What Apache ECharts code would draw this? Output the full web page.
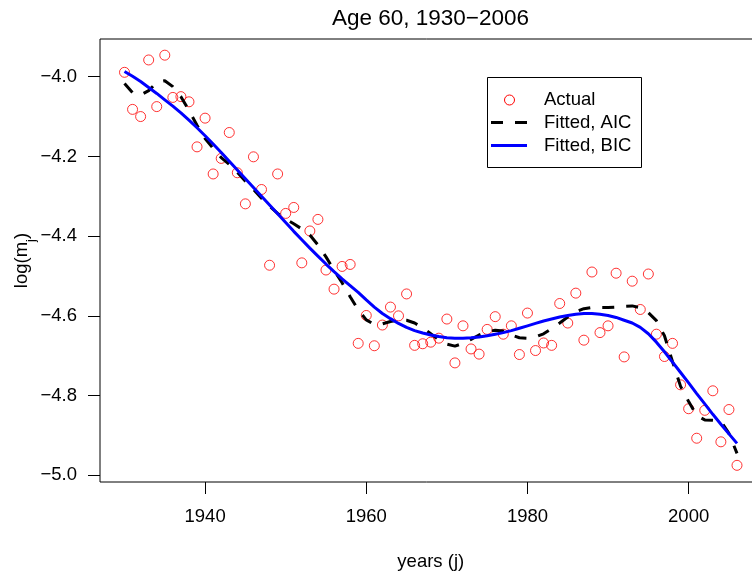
<!DOCTYPE html>
<html>
<head>
<meta charset="utf-8">
<script src="https://cdn.jsdelivr.net/npm/echarts@6/dist/echarts.min.js"></script>
<style>html,body{margin:0;padding:0;background:#fff;}#c{width:752px;height:572px;}</style>
</head>
<body>
<div id="c"></div>
<script>
const years = [1930,1931,1932,1933,1934,1935,1936,1937,1938,1939,1940,1941,1942,1943,1944,1945,1946,1947,1948,1949,1950,1951,1952,1953,1954,1955,1956,1957,1958,1959,1960,1961,1962,1963,1964,1965,1966,1967,1968,1969,1970,1971,1972,1973,1974,1975,1976,1977,1978,1979,1980,1981,1982,1983,1984,1985,1986,1987,1988,1989,1990,1991,1992,1993,1994,1995,1996,1997,1998,1999,2000,2001,2002,2003,2004,2005,2006];
const actual = [-3.989,-4.082,-4.100,-3.958,-4.075,-3.946,-4.052,-4.050,-4.063,-4.176,-4.104,-4.244,-4.205,-4.140,-4.241,-4.319,-4.201,-4.283,-4.473,-4.244,-4.343,-4.328,-4.467,-4.387,-4.358,-4.485,-4.533,-4.476,-4.471,-4.669,-4.599,-4.675,-4.623,-4.578,-4.600,-4.545,-4.674,-4.670,-4.666,-4.656,-4.608,-4.718,-4.625,-4.683,-4.696,-4.634,-4.602,-4.646,-4.625,-4.697,-4.593,-4.687,-4.668,-4.674,-4.569,-4.618,-4.543,-4.661,-4.490,-4.642,-4.625,-4.493,-4.703,-4.513,-4.584,-4.495,-4.646,-4.702,-4.669,-4.773,-4.833,-4.907,-4.837,-4.788,-4.916,-4.835,-4.975];
const fittedAIC = [-4.017,-4.040,-4.046,-4.035,-4.014,-4.010,-4.025,-4.050,-4.085,-4.122,-4.155,-4.180,-4.203,-4.220,-4.240,-4.262,-4.283,-4.305,-4.325,-4.343,-4.357,-4.369,-4.382,-4.397,-4.422,-4.452,-4.486,-4.517,-4.552,-4.585,-4.610,-4.622,-4.620,-4.614,-4.610,-4.611,-4.618,-4.630,-4.645,-4.660,-4.671,-4.676,-4.669,-4.659,-4.648,-4.640,-4.636,-4.638,-4.648,-4.655,-4.656,-4.653,-4.645,-4.632,-4.618,-4.603,-4.590,-4.582,-4.579,-4.579,-4.579,-4.578,-4.576,-4.575,-4.580,-4.592,-4.612,-4.650,-4.715,-4.777,-4.815,-4.850,-4.861,-4.862,-4.864,-4.895,-4.945];
const fittedBIC = [-3.987,-3.999,-4.012,-4.027,-4.042,-4.058,-4.074,-4.091,-4.109,-4.128,-4.148,-4.169,-4.190,-4.212,-4.234,-4.256,-4.278,-4.300,-4.322,-4.344,-4.366,-4.388,-4.409,-4.430,-4.450,-4.470,-4.489,-4.507,-4.524,-4.541,-4.560,-4.578,-4.594,-4.607,-4.619,-4.629,-4.637,-4.643,-4.648,-4.652,-4.655,-4.656,-4.656,-4.655,-4.653,-4.650,-4.646,-4.642,-4.637,-4.631,-4.625,-4.619,-4.613,-4.608,-4.603,-4.599,-4.596,-4.594,-4.594,-4.596,-4.599,-4.604,-4.611,-4.618,-4.629,-4.645,-4.666,-4.690,-4.716,-4.742,-4.768,-4.795,-4.821,-4.847,-4.872,-4.896,-4.920];
const xTicks = [1940,1960,1980,2000];
const yTicks = [-5.0,-4.8,-4.6,-4.4,-4.2,-4.0];
const titleText = 'Age 60, 1930\u22122006';
const xName = 'years (j)';
const yName = 'log(m{s|j})';
const legendNames = ['Actual','Fitted, AIC','Fitted, BIC'];

const FONT = '"Liberation Sans", Arial, Helvetica, sans-serif';
const fs = 18.5;
const zip = (a, b) => a.map((v, i) => [v, b[i]]);

const chart = echarts.init(document.getElementById('c'), null, {renderer: 'canvas'});
chart.setOption({
  animation: false,
  backgroundColor: '#ffffff',
  grid: {left: 100, top: 39, width: 661.5, height: 443, show: true, borderColor: '#000', borderWidth: 1,
    backgroundColor: 'transparent', containLabel: false, outerBoundsMode: 'none'},
  xAxis: {
    type: 'value', min: 1926.96, max: 2009.04,
    name: xName, nameLocation: 'middle', nameGap: 70,
    nameTextStyle: {fontFamily: FONT, fontSize: fs, color: '#000'},
    axisLine: {show: false},
    splitLine: {show: false},
    axisTick: {show: true, length: 12, customValues: xTicks, lineStyle: {color: '#000', width: 1}},
    axisLabel: {customValues: xTicks, margin: 25, fontFamily: FONT, fontSize: fs, color: '#000',
      formatter: v => String(Math.round(v))}
  },
  yAxis: {
    type: 'value', min: -5.01682, max: -3.90542,
    axisLine: {show: false},
    splitLine: {show: false},
    axisTick: {show: true, length: 12, customValues: yTicks, lineStyle: {color: '#000', width: 1}},
    axisLabel: {customValues: yTicks, margin: 23, fontFamily: FONT, fontSize: fs, color: '#000',
      formatter: v => (v < 0 ? '\u2212' : '') + Math.abs(v).toFixed(1)}
  },
  series: [
    {name: legendNames[0], type: 'scatter', z: 2, data: zip(years, actual), symbol: 'circle', symbolSize: 10,
      itemStyle: {color: 'transparent', borderColor: '#ff0000', borderWidth: 1}},
    {name: legendNames[1], type: 'line', z: 3, data: zip(years, fittedAIC), showSymbol: false, symbol: 'none',
      lineStyle: {color: '#000', width: 3, type: [12, 12], cap: 'butt'}},
    {name: legendNames[2], type: 'line', z: 4, data: zip(years, fittedBIC), showSymbol: false, symbol: 'none',
      lineStyle: {color: '#0000ff', width: 3}}
  ],
  graphic: [
    {type: 'text', x: 430.5, y: 19, z: 10, style: {text: titleText, font: '22.5px ' + FONT, fill: '#000', textAlign: 'center', textVerticalAlign: 'middle'}},
    {type: 'text', x: 22, y: 260.5, rotation: Math.PI / 2, z: 10,
      style: {text: yName, fontFamily: FONT, fontSize: fs, fill: '#000', align: 'center', verticalAlign: 'middle',
        rich: {s: {fontFamily: FONT, fontSize: 13, fill: '#000', verticalAlign: 'bottom', padding: [0,0,-6,0]}}}},
    {type: 'rect', z: 10, shape: {x: 487.5, y: 77.5, width: 154, height: 90}, style: {fill: '#fff', stroke: '#000', lineWidth: 1}},
    {type: 'circle', z: 11, shape: {cx: 509.5, cy: 100, r: 5}, style: {fill: 'none', stroke: '#ff0000', lineWidth: 1}},
    {type: 'line', z: 11, shape: {x1: 491, y1: 122.5, x2: 527, y2: 122.5}, style: {stroke: '#000', lineWidth: 3, lineDash: [12, 12]}},
    {type: 'line', z: 11, shape: {x1: 491, y1: 145.5, x2: 527, y2: 145.5}, style: {stroke: '#0000ff', lineWidth: 3}},
    {type: 'text', z: 11, x: 544, y: 100, style: {text: legendNames[0], font: fs + 'px ' + FONT, fill: '#000', textVerticalAlign: 'middle'}},
    {type: 'text', z: 11, x: 544, y: 122.5, style: {text: legendNames[1], font: fs + 'px ' + FONT, fill: '#000', textVerticalAlign: 'middle'}},
    {type: 'text', z: 11, x: 544, y: 145.5, style: {text: legendNames[2], font: fs + 'px ' + FONT, fill: '#000', textVerticalAlign: 'middle'}}
  ]
});
</script>
</body>
</html>
